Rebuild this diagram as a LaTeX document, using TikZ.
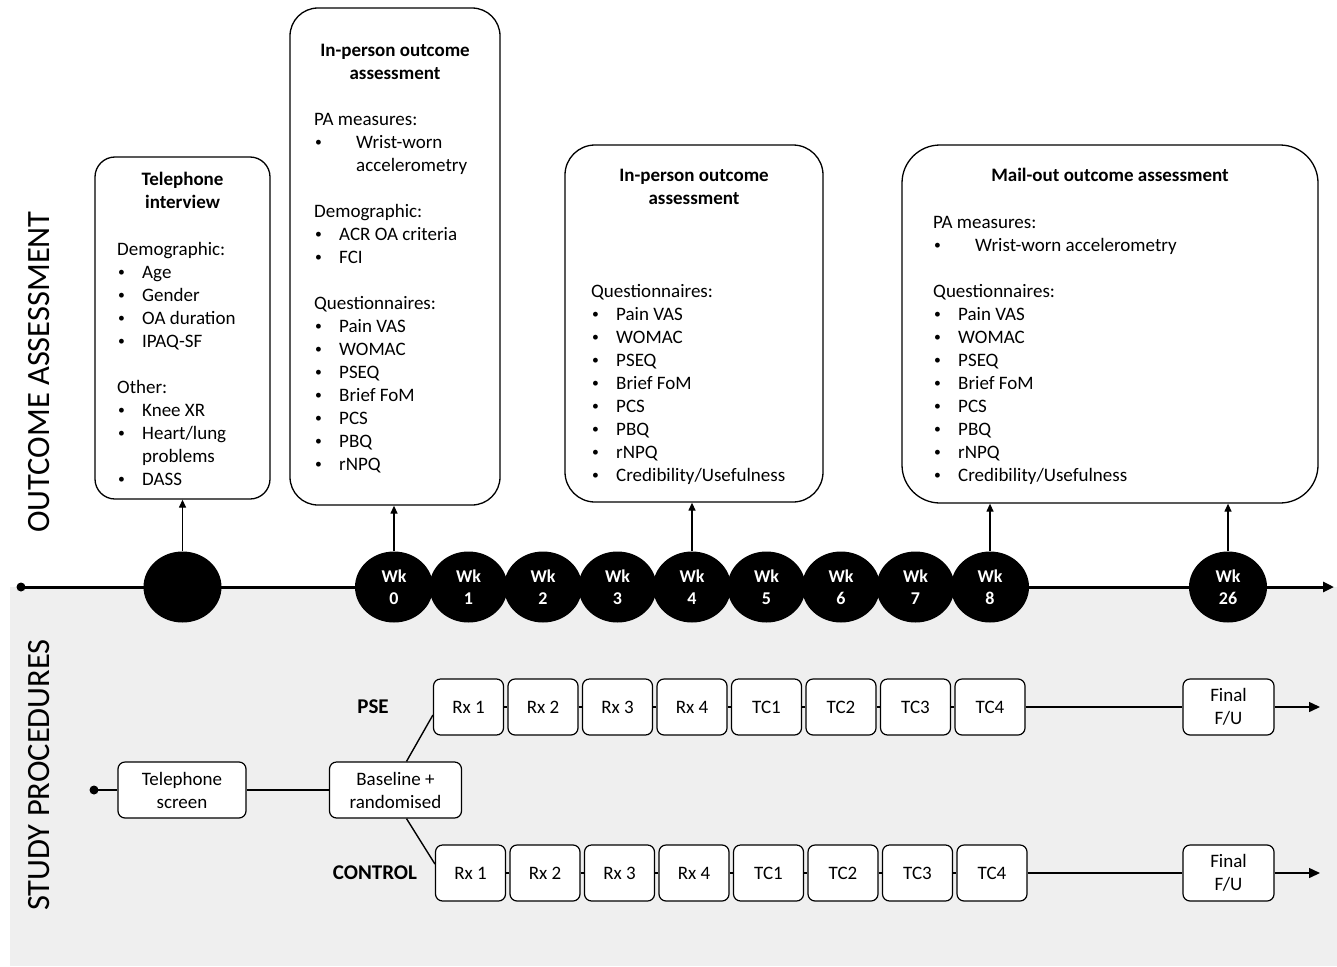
\documentclass[tikz,border=0pt]{standalone}
\usepackage{fontspec}
\usepackage{graphicx}
\setmainfont{Carlito}
\usetikzlibrary{arrows.meta,shapes.geometric,calc}
\definecolor{bgc}{RGB}{239,239,239}
\newcommand{\bl}{\makebox[25pt][l]{\hspace{1pt}\raisebox{1.6pt}{\scalebox{0.72}{\textbullet}}}}
\begin{document}
\begin{tikzpicture}[x=1pt,y=-1pt,
  obox/.style={draw,line width=1.3pt,inner sep=0pt},
  wk/.style={ellipse,fill=black,minimum width=78pt,minimum height=71pt,inner sep=0pt,text=white,font=\fontsize{18}{22}\selectfont\bfseries,align=center},
  rbox/.style={draw,fill=white,line width=1.2pt,rounded corners=7pt,minimum width=70pt,minimum height=56pt,inner sep=0pt,font=\fontsize{19}{23}\selectfont,align=center},
  head/.style={anchor=north,inner sep=0pt,align=center,font=\fontsize{19}{23}\selectfont\bfseries},
  body/.style={anchor=north west,inner sep=0pt,align=left,font=\fontsize{19}{23}\selectfont},
  lbl/.style={inner sep=0pt,font=\fontsize{21}{24}\selectfont\bfseries},
  side/.style={rotate=90,inner sep=0pt,font=\fontsize{32.5}{36}\selectfont},
  conn/.style={line width=1.4pt},
  upar/.style={line width=1.3pt,-{Triangle[length=8pt,width=7pt]}},
  tip/.style={-{Triangle[length=11pt,width=10pt]}}
]
\useasboundingbox (0,0) rectangle (1337,966);
\fill[bgc] (10,587) rectangle (1337,966);

% side labels
\node[side] (la) at (39,372) {OUTCOME ASSESSMENT};
\node[side] (lb) at (39,775) {STUDY PROCEDURES};

% timeline
\coordinate (tstart) at (21,587);
\coordinate (tend) at (1334,587);
\fill (tstart) circle (4.5);
\draw[line width=3pt,tip] (tstart) -- (tend);

\node[wk] (tel) at (182.5,587) {};
\foreach \n/\x in {0/394,1/468.5,2/543,3/617.5,4/692,5/766.5,6/841,7/915.5,8/990,26/1228}
  \node[wk] (w\n) at (\x,587) {Wk\\\n};

% outcome boxes
\node[obox,rounded corners=20pt,minimum width=175pt,minimum height=342pt] (b1) at (182.5,328) {};
\node[obox,rounded corners=28pt,minimum width=210pt,minimum height=497pt] (b2) at (395,256.5) {};
\node[obox,rounded corners=30pt,minimum width=258pt,minimum height=357pt] (b3) at (694,323.5) {};
\node[obox,rounded corners=38pt,minimum width=416pt,minimum height=358pt] (b4) at (1110,324) {};

\node[head] (h1) at (182.5,168.9) {\strut Telephone\\interview};
\node[body] (t1) at (117,238.9) {\strut Demographic:\\
\bl Age\\
\bl Gender\\
\bl OA duration\\
\bl IPAQ-SF\\[23pt]
Other:\\
\bl Knee XR\\
\bl Heart/lung\\
\hspace{25pt}problems\\
\bl DASS};

\node[head] (h2) at (395,39.9) {\strut In-person outcome\\assessment};
\node[body] (t2) at (314,108.9) {\strut PA measures:\\
\bl\hspace{17pt}Wrist-worn\\
\hspace{42pt}accelerometry\\[23pt]
Demographic:\\
\bl ACR OA criteria\\
\bl FCI\\[23pt]
Questionnaires:\\
\bl Pain VAS\\
\bl WOMAC\\
\bl PSEQ\\
\bl Brief FoM\\
\bl PCS\\
\bl PBQ\\
\bl rNPQ};

\node[head] (h3) at (694,164.9) {\strut In-person outcome\\assessment};
\node[body] (t3) at (591,280.9) {\strut Questionnaires:\\
\bl Pain VAS\\
\bl WOMAC\\
\bl PSEQ\\
\bl Brief FoM\\
\bl PCS\\
\bl PBQ\\
\bl rNPQ\\
\bl Credibility/Usefulness};

\node[head] (h4) at (1110,164.9) {\strut Mail-out outcome assessment};
\node[body] (t4) at (933,211.9) {\strut PA measures:\\
\bl\hspace{17pt}Wrist-worn accelerometry\\[23pt]
Questionnaires:\\
\bl Pain VAS\\
\bl WOMAC\\
\bl PSEQ\\
\bl Brief FoM\\
\bl PCS\\
\bl PBQ\\
\bl rNPQ\\
\bl Credibility/Usefulness};

% arrows up
\draw[upar] (tel.north) -- (b1.south);
\draw[upar] (w0.north) -- (w0.north |- b2.south);
\draw[upar] (w4.north) -- (w4.north |- b3.south);
\draw[upar] (w8.north) -- (w8.north |- b4.south);
\draw[upar] (w26.north) -- (w26.north |- b4.south);

% study procedures
\coordinate (sdot) at (94,790);
\fill (sdot) circle (4.5);
\node[rbox,minimum width=128pt] (ts) at (182,790) {Telephone\\screen};
\node[rbox,minimum width=132pt] (base) at (395.5,790) {Baseline +\\randomised};
\draw[conn] (sdot) -- (ts);
\draw[conn] (ts) -- (base);

\node[lbl] (pse) at (373,707) {PSE};
\node[lbl] (ctl) at (375,873) {CONTROL};

\foreach \i/\t in {1/Rx 1,2/Rx 2,3/Rx 3,4/Rx 4,5/TC1,6/TC2,7/TC3,8/TC4}{
  \node[rbox] (p\i) at ({394+\i*74.5},707) {\t};
  \node[rbox] (c\i) at ({396+\i*74.5},873) {\t};
}
\foreach \i [remember=\i as \k (initially 1)] in {2,...,8}{
  \draw[conn] (p\k) -- (p\i);
  \draw[conn] (c\k) -- (c\i);
}
\node[rbox,minimum width=91pt] (pf) at (1228.5,707) {Final\\F/U};
\node[rbox,minimum width=91pt] (cf) at (1228.5,873) {Final\\F/U};
\coordinate (pend) at (1320,707);
\coordinate (cend) at (1320,873);
\draw[conn] (p8) -- (pf);
\draw[conn] (c8) -- (cf);
\draw[conn,tip] (pf) -- (pend);
\draw[conn,tip] (cf) -- (cend);

\draw[conn] ($(base.north)+(11,0)$) -- ($(p1.west)+(0,8)$);
\draw[conn] ($(base.south)+(11,0)$) -- ($(c1.west)+(0,-9)$);
\end{tikzpicture}
\end{document}
